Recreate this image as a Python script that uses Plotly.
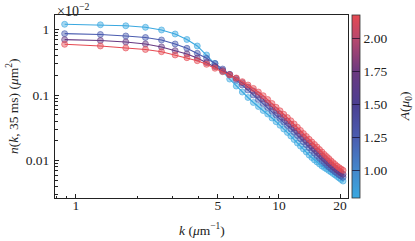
import plotly.graph_objects as go

# wavenumbers k (um^-1)
k = [0.88, 1.32, 1.76, 2.20, 2.64, 3.08, 3.52, 3.96, 4.40, 4.84, 5.28, 5.72, 6.16, 6.60,
     7.04, 7.48, 7.92, 8.36, 8.80, 9.24, 9.68, 10.12, 10.56, 11.00, 11.44, 11.88, 12.32,
     12.76, 13.20, 13.64, 14.08, 14.52, 14.96, 15.40, 15.84, 16.28, 16.72, 17.16, 17.60,
     18.04, 18.48, 18.92, 19.36, 19.80, 20.24, 20.68]

# amplitudes A (mu_0) of the four series
A = [0.79, 1.25, 1.72, 2.18]

# n(k, 35 ms) in units of 1e-2 um^2
n_A1 = [1.20, 1.18, 1.14, 1.08, 0.983, 0.854, 0.704, 0.560, 0.408, 0.303, 0.228, 0.175,
        0.137, 0.111, 0.0916, 0.0768, 0.0667, 0.0580, 0.0513, 0.0446, 0.0391, 0.0345,
        0.0303, 0.0268, 0.0237, 0.0209, 0.0185, 0.0166, 0.0150, 0.0135, 0.0121, 0.0111,
        0.0102, 0.00949, 0.00884, 0.00824, 0.00782, 0.00742, 0.00704, 0.00668, 0.00633,
        0.00601, 0.00570, 0.00541, 0.00513, 0.00486]
n_A2 = [0.863, 0.839, 0.796, 0.755, 0.691, 0.601, 0.516, 0.433, 0.363, 0.303, 0.249,
        0.206, 0.169, 0.142, 0.119, 0.100, 0.0854, 0.0742, 0.0644, 0.0564, 0.0495, 0.0438,
        0.0387, 0.0342, 0.0303, 0.0269, 0.0241, 0.0215, 0.0193, 0.0174, 0.0157, 0.0142,
        0.0129, 0.0118, 0.0108, 0.0100, 0.00926, 0.00860, 0.00804, 0.00755, 0.00711,
        0.00672, 0.00638, 0.00607, 0.00580, 0.00556]
n_A3 = [0.699, 0.679, 0.645, 0.601, 0.541, 0.475, 0.423, 0.367, 0.313, 0.272, 0.237,
        0.206, 0.179, 0.154, 0.132, 0.115, 0.100, 0.0869, 0.0755, 0.0661, 0.0580, 0.0513,
        0.0453, 0.0401, 0.0356, 0.0317, 0.0282, 0.0252, 0.0226, 0.0203, 0.0184, 0.0166,
        0.0151, 0.0138, 0.0127, 0.0116, 0.0107, 0.00993, 0.00922, 0.00860, 0.00804,
        0.00755, 0.00711, 0.00675, 0.00645, 0.00618]
n_A4 = [0.594, 0.560, 0.522, 0.495, 0.458, 0.408, 0.371, 0.334, 0.294, 0.256, 0.227,
        0.202, 0.182, 0.160, 0.142, 0.126, 0.111, 0.0976, 0.0854, 0.0742, 0.0649, 0.0574,
        0.0507, 0.0452, 0.0404, 0.0361, 0.0322, 0.0288, 0.0258, 0.0233, 0.0211, 0.0192,
        0.0176, 0.0161, 0.0147, 0.0135, 0.0124, 0.0115, 0.0107, 0.00989, 0.00926, 0.00869,
        0.00818, 0.00777, 0.00742, 0.00709]
series = [n_A1, n_A2, n_A3, n_A4]

x_tickvals = [1, 5, 10, 20]
x_ticktext = ["1", "5", "10", "20"]
x_minor = [0.8, 0.9, 2, 3, 4, 6, 7, 8, 9]
y_tickvals = [0.01, 0.1, 1]
y_ticktext = ["0.01", "0.1", "1"]
y_minor = [m * d for d in (0.001, 0.01, 0.1, 1) for m in range(2, 10)]
cb_ticks = [1.00, 1.25, 1.50, 1.75, 2.00]

cmin, cmax = 0.79, 2.18
stops = [(0.0, (58, 168, 224)), (0.15, (67, 136, 204)), (0.33, (74, 93, 176)),
         (0.51, (75, 63, 146)), (0.69, (107, 57, 128)), (0.87, (184, 72, 110)),
         (1.0, (230, 74, 82))]
colorscale = [[s, "rgb(%d,%d,%d)" % c] for s, c in stops]


def color_at(a, alpha=1.0):
    f = (a - cmin) / (cmax - cmin)
    f = min(max(f, 0), 1)
    for (s0, c0), (s1, c1) in zip(stops[:-1], stops[1:]):
        if s0 <= f <= s1:
            t = (f - s0) / (s1 - s0) if s1 > s0 else 0
            c = [c0[i] + t * (c1[i] - c0[i]) for i in range(3)]
            return "rgba(%d,%d,%d,%.2f)" % (c[0], c[1], c[2], alpha)
    return "rgba(0,0,0,1)"


FONT = "Liberation Serif"
FS = 13.5
TXT = "#222"
fig = go.Figure()
for a, ys in zip(A, series):
    fig.add_trace(go.Scatter(
        x=k, y=ys, mode="lines+markers",
        line=dict(color=color_at(a), width=1.1),
        marker=dict(size=6, color=color_at(a, 0.45),
                    line=dict(color=color_at(a, 0.75), width=0.8)),
        showlegend=False, hoverinfo="skip"))

# colour bar carrier
fig.add_trace(go.Scatter(
    x=[k[0]] * len(A), y=n_A1[:len(A)], mode="markers",
    marker=dict(size=0.1, opacity=0, color=A, colorscale=colorscale, cmin=cmin, cmax=cmax,
                showscale=True,
                colorbar=dict(x=1.012, xanchor="left", y=0, yanchor="bottom", len=1,
                              lenmode="fraction", thickness=8, outlinewidth=0.8,
                              outlinecolor="#333", xpad=0, ypad=0,
                              tickvals=cb_ticks,
                              ticktext=["%.2f" % t for t in cb_ticks],
                              ticks="inside", ticklen=8, tickwidth=1.2,
                              tickcolor="rgba(20,10,40,0.7)",
                              tickfont=dict(family=FONT, size=FS, color=TXT))),
    showlegend=False, hoverinfo="skip"))

fig.update_xaxes(type="log", range=[-0.103, 1.340], showgrid=False, zeroline=False,
                 showline=True, linecolor="#222", linewidth=1, mirror=True,
                 ticks="inside", ticklen=4, tickwidth=1, tickcolor="#222",
                 tickvals=x_tickvals, ticktext=x_ticktext, automargin=False,
                 ticklabelstandoff=-5,
                 minor=dict(tickvals=x_minor, ticks="inside", ticklen=2.5, tickcolor="#222",
                            showgrid=False),
                 tickfont=dict(family=FONT, size=FS, color=TXT))
fig.update_yaxes(type="log", range=[-2.572, 0.221], showgrid=False, zeroline=False,
                 showline=True, linecolor="#222", linewidth=1, mirror=True,
                 ticks="inside", ticklen=4, tickwidth=1, tickcolor="#222",
                 tickvals=y_tickvals, ticktext=y_ticktext, automargin=False,
                 ticklabelstandoff=2,
                 minor=dict(tickvals=y_minor, ticks="inside", ticklen=2.5, tickcolor="#222",
                            showgrid=False),
                 tickfont=dict(family=FONT, size=FS, color=TXT))

# axis titles
fig.add_annotation(text="<i>k</i> (<i>μ</i>m<sup>−1</sup>)", xref="paper", yref="paper",
                   x=0.50, y=-0.17, xanchor="center", yanchor="middle", showarrow=False,
                   font=dict(family=FONT, size=FS, color=TXT))
fig.add_annotation(text="<i>n</i>(<i>k</i>, 35 ms) (<i>μ</i>m<sup>2</sup>)", xref="paper",
                   yref="paper", x=-0.145, y=0.5, xanchor="center", yanchor="middle",
                   textangle=-90, showarrow=False, font=dict(family=FONT, size=FS, color=TXT))
fig.add_annotation(text="<i>A</i>(<i>μ</i><sub>0</sub>)", xref="paper", yref="paper",
                   x=1.197, y=0.5, xanchor="center", yanchor="middle", textangle=-90,
                   showarrow=False, font=dict(family=FONT, size=FS, color=TXT))
fig.add_annotation(text="×10<sup>−2</sup>", xref="paper", yref="paper", x=0, y=1,
                   xanchor="left", yanchor="bottom", showarrow=False, yshift=-6, xshift=0,
                   font=dict(family=FONT, size=14, color=TXT))

fig.update_layout(width=415, height=241, margin=dict(l=55, r=67, t=15, b=43, autoexpand=False),
                  paper_bgcolor="white", plot_bgcolor="white")
# remove the browser's default 8 px body margin so the figure fills the window exactly
fig.write_html("out.html", config={"displayModeBar": False},
               post_script="document.body.style.margin='0';document.body.style.overflow='hidden';")
